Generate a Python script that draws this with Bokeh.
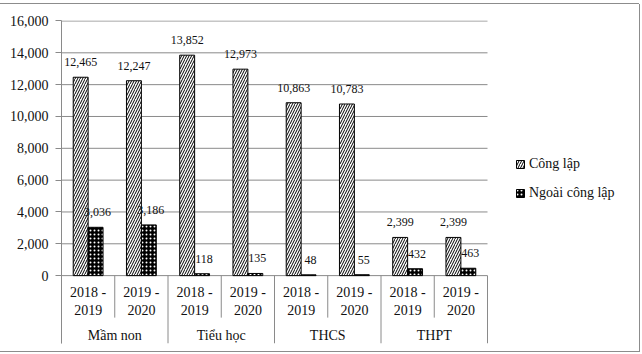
from bokeh.plotting import figure
from bokeh.models import (ColumnDataSource, Range1d, FixedTicker, NumeralTickFormatter,
                          Legend, LegendItem)
from bokeh.core.properties import value
from bokeh.embed import file_html
from bokeh.resources import INLINE

# ---- data ----
groups = ["Mầm non", "Tiểu học", "THCS", "THPT"]
year_line1 = ["2018 -", "2019 -"]
year_line2 = ["2019", "2020"]
cong_lap = [12465, 12247, 13852, 12973, 10863, 10783, 2399, 2399]
ngoai_cong_lap = [3036, 3186, 118, 135, 48, 55, 432, 463]
y_ticks = [0, 2000, 4000, 6000, 8000, 10000, 12000, 14000, 16000]
series_names = ["Công lập", "Ngoài công lập"]

FONT = "'Liberation Serif', 'Times New Roman', serif"
GRID = "#8a8a8a"
TEXT = "#111111"

n_sub = len(year_line1)
n = len(cong_lap)
idx = list(range(n))
centers = [i + 0.5 for i in idx]
bw = 0.28

W, H = 639, 347
frame_left = 61
frame_top, frame_bottom = 16, 339
frame_h = frame_bottom - frame_top
px_per_x = 53.25
frame_w = W - frame_left

y_end = 16031
y_start = -4266
units_per_px = (y_end - y_start) / frame_h

p = figure(width=W, height=H, output_backend="svg", toolbar_location=None,
           x_range=Range1d(0, frame_w / px_per_x), y_range=Range1d(y_start, y_end),
           min_border_left=frame_left, min_border_right=0,
           min_border_top=frame_top, min_border_bottom=H - frame_bottom)
p.styles = {"margin-top": "4px", "width": f"{W}px", "height": f"{H}px",
            "box-shadow": "1px 0 0 #8c8c8c, 0 1px 0 #8c8c8c, 0 -1px 0 #8c8c8c, 1px 1px 0 #8c8c8c"}
p.outline_line_color = None
p.xaxis.visible = False
p.xgrid.visible = False
p.ygrid.visible = False

ya = p.yaxis[0]
ya.ticker = FixedTicker(ticks=y_ticks)
ya.formatter = NumeralTickFormatter(format="0,0")
ya.major_label_text_font = FONT
ya.major_label_text_font_size = "14px"
ya.major_label_text_color = TEXT
ya.axis_line_color = GRID
ya.major_tick_line_color = GRID
ya.major_tick_out = 6
ya.major_tick_in = 0
ya.minor_tick_line_color = None
ya.major_label_standoff = 7

# horizontal gridlines limited to the category span
p.segment(x0=[0] * len(y_ticks), x1=[n] * len(y_ticks), y0=y_ticks, y1=y_ticks,
          line_color=GRID, line_width=1)

src = ColumnDataSource(dict(
    x1=[c - bw / 2 for c in centers], x2=[c + bw / 2 for c in centers],
    cl=cong_lap, ncl=ngoai_cong_lap,
    cl_lab=[f"{v:,}" for v in cong_lap], ncl_lab=[f"{v:,}" for v in ngoai_cong_lap],
))

r1 = p.vbar(x="x1", top="cl", bottom=0, width=bw, source=src,
            fill_color="white", line_color="black", line_width=1,
            hatch_pattern="right_diagonal_line", hatch_color="black",
            hatch_scale=5, hatch_weight=1)
r2 = p.vbar(x="x2", top="ncl", bottom=0, width=bw, source=src,
            fill_color="black", line_color="black", line_width=1,
            hatch_pattern="dot", hatch_color="white",
            hatch_scale=4, hatch_weight=0.8)

p.text(x="x1", y="cl", text="cl_lab", source=src, text_align="center",
       text_baseline="alphabetic", y_offset=-15, text_font=value(FONT),
       text_font_size="12px", text_color=TEXT)
p.text(x="x2", y="ncl", text="ncl_lab", source=src, text_align="center",
       text_baseline="alphabetic", y_offset=-15, x_offset=2, text_font=value(FONT),
       text_font_size="12px", text_color=TEXT)

# category axis (two levels) drawn below zero
sub_bottom = -42 * units_per_px
x0s, y0s, x1s, y1s = [], [], [], []
for b in range(n + 1):
    x0s.append(b); x1s.append(b); y0s.append(0)
    y1s.append(y_start if b % n_sub == 0 else sub_bottom)
p.segment(x0=x0s, y0=y0s, x1=x1s, y1=y1s, line_color=GRID, line_width=1)

sub_src = ColumnDataSource(dict(
    x=centers, y=[0] * n,
    l1=[year_line1[i % n_sub] for i in idx], l2=[year_line2[i % n_sub] for i in idx]))
p.text(x="x", y="y", text="l1", source=sub_src, text_align="center", text_baseline="middle",
       y_offset=17, text_font=value(FONT), text_font_size="14px", text_color=TEXT)
p.text(x="x", y="y", text="l2", source=sub_src, text_align="center", text_baseline="middle",
       y_offset=34, text_font=value(FONT), text_font_size="14px", text_color=TEXT)
grp_src = ColumnDataSource(dict(x=[g * n_sub + n_sub / 2 for g in range(len(groups))],
                                y=[0] * len(groups), t=groups))
p.text(x="x", y="y", text="t", source=grp_src, text_align="center", text_baseline="middle",
       y_offset=60, text_font=value(FONT), text_font_size="14px", text_color=TEXT)

legend = Legend(items=[LegendItem(label=series_names[0], renderers=[r1]),
                       LegendItem(label=series_names[1], renderers=[r2])],
                location=(454, 142), padding=10, spacing=13,
                glyph_width=10, glyph_height=10, label_height=16, label_standoff=4,
                label_text_font=FONT, label_text_font_size="14px",
                label_text_color=TEXT, border_line_color=None,
                background_fill_alpha=0)
p.add_layout(legend)

open("out.html", "w").write(file_html(p, INLINE))
